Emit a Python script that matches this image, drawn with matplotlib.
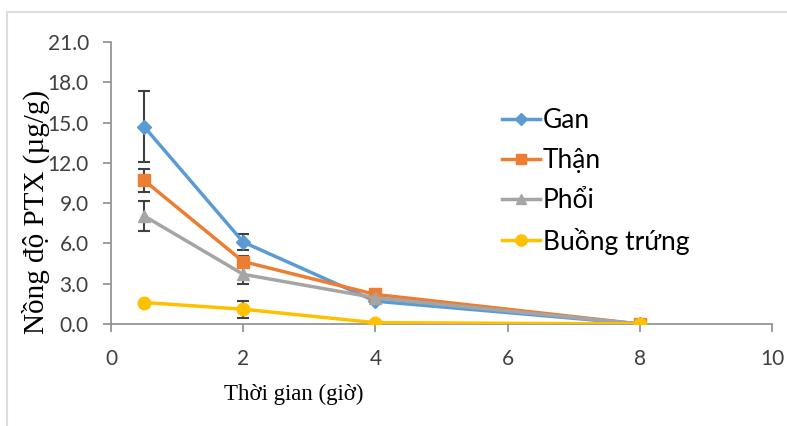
import matplotlib
matplotlib.use("Agg")
import matplotlib.pyplot as plt
from matplotlib.lines import Line2D
import numpy as np

# sampling times (h)
times = [0.5, 2, 4, 8]

# PTX concentration (ug/g) per tissue, mean and SD
gan = [14.7, 6.1, 1.7, 0.0]
gan_sd = [2.65, 0.6, 0.0, 0.0]
than = [10.7, 4.65, 2.2, 0.0]
than_sd = [0.85, 0.4, 0.0, 0.0]
phoi = [8.05, 3.7, 1.95, 0.0]
phoi_sd = [1.1, 0.75, 0.0, 0.0]
buong_trung = [1.6, 1.1, 0.1, 0.0]
buong_trung_sd = [0.0, 0.62, 0.0, 0.0]

labels = ["Gan", "Thận", "Phổi", "Buồng trứng"]
colors = ["#5B9BD5", "#ED7D31", "#A5A5A5", "#FFC000"]
markers = ["D", "s", "^", "o"]
msizes = [7, 8, 8, 9]

fig = plt.figure(figsize=(7.87, 4.26), dpi=100)
ax = fig.add_axes([111/787, 1-324/426, 661/787, 282/426])

series = [(gan, gan_sd), (than, than_sd), (phoi, phoi_sd), (buong_trung, buong_trung_sd)]
for (vals, sd), lab, c, m, ms in zip(series, labels, colors, markers, msizes):
    ax.errorbar(times, vals, yerr=sd, fmt="none", ecolor="#404040",
                elinewidth=1.5, capsize=4, capthick=1.5, zorder=2)
    ax.plot(times, vals, color=c, marker=m, markersize=ms, lw=2.5,
            label=lab, zorder=3)

ax.set_xlim(0, 10)
ax.set_ylim(0, 21)
ax.set_xticks(range(0, 11, 2))
ax.set_yticks(np.arange(0, 21.1, 3))
ax.yaxis.set_major_formatter(matplotlib.ticker.FormatStrFormatter("%.1f"))

for s in ["top", "right"]:
    ax.spines[s].set_visible(False)
for s in ["left", "bottom"]:
    ax.spines[s].set_color("#8c8c8c")
    ax.spines[s].set_linewidth(1.2)
ax.spines["left"].set_zorder(1)

ax.tick_params(axis="both", colors="#8c8c8c", width=1.2, length=6,
               labelcolor="#404040", labelsize=15)
ax.tick_params(axis="y", pad=10)
ax.tick_params(axis="x", pad=12)
for t in ax.get_xticklabels() + ax.get_yticklabels():
    t.set_family("Lato")

ax.set_xlabel("Thời gian (giờ)", family="Liberation Serif", fontsize=16.5)
ax.xaxis.set_label_coords((294-111)/661, (324-384)/282)
ax.set_ylabel("Nồng độ PTX (µg/g)", family="Liberation Serif", fontsize=21)
ax.yaxis.set_label_coords((36-111)/661, (324-212)/282)
ax.yaxis.label.set_va("center")
ax.xaxis.label.set_va("top")

ax.legend(loc="upper left", bbox_to_anchor=(489/787, 1-95/426),
          bbox_transform=fig.transFigure, frameon=False, borderpad=0,
          handlelength=1.45, handletextpad=0.08, labelspacing=0.56,
          prop={"family": "Lato", "size": 19}, markerscale=0.9)

# light frame on top and left
fig.add_artist(Line2D([7/787, 7/787], [0, 1-12/426], color="#dcdcdc", lw=1.5))
fig.add_artist(Line2D([7/787, 1], [1-12/426, 1-12/426], color="#dcdcdc", lw=1.5))

fig.savefig("out.png", dpi=100)
